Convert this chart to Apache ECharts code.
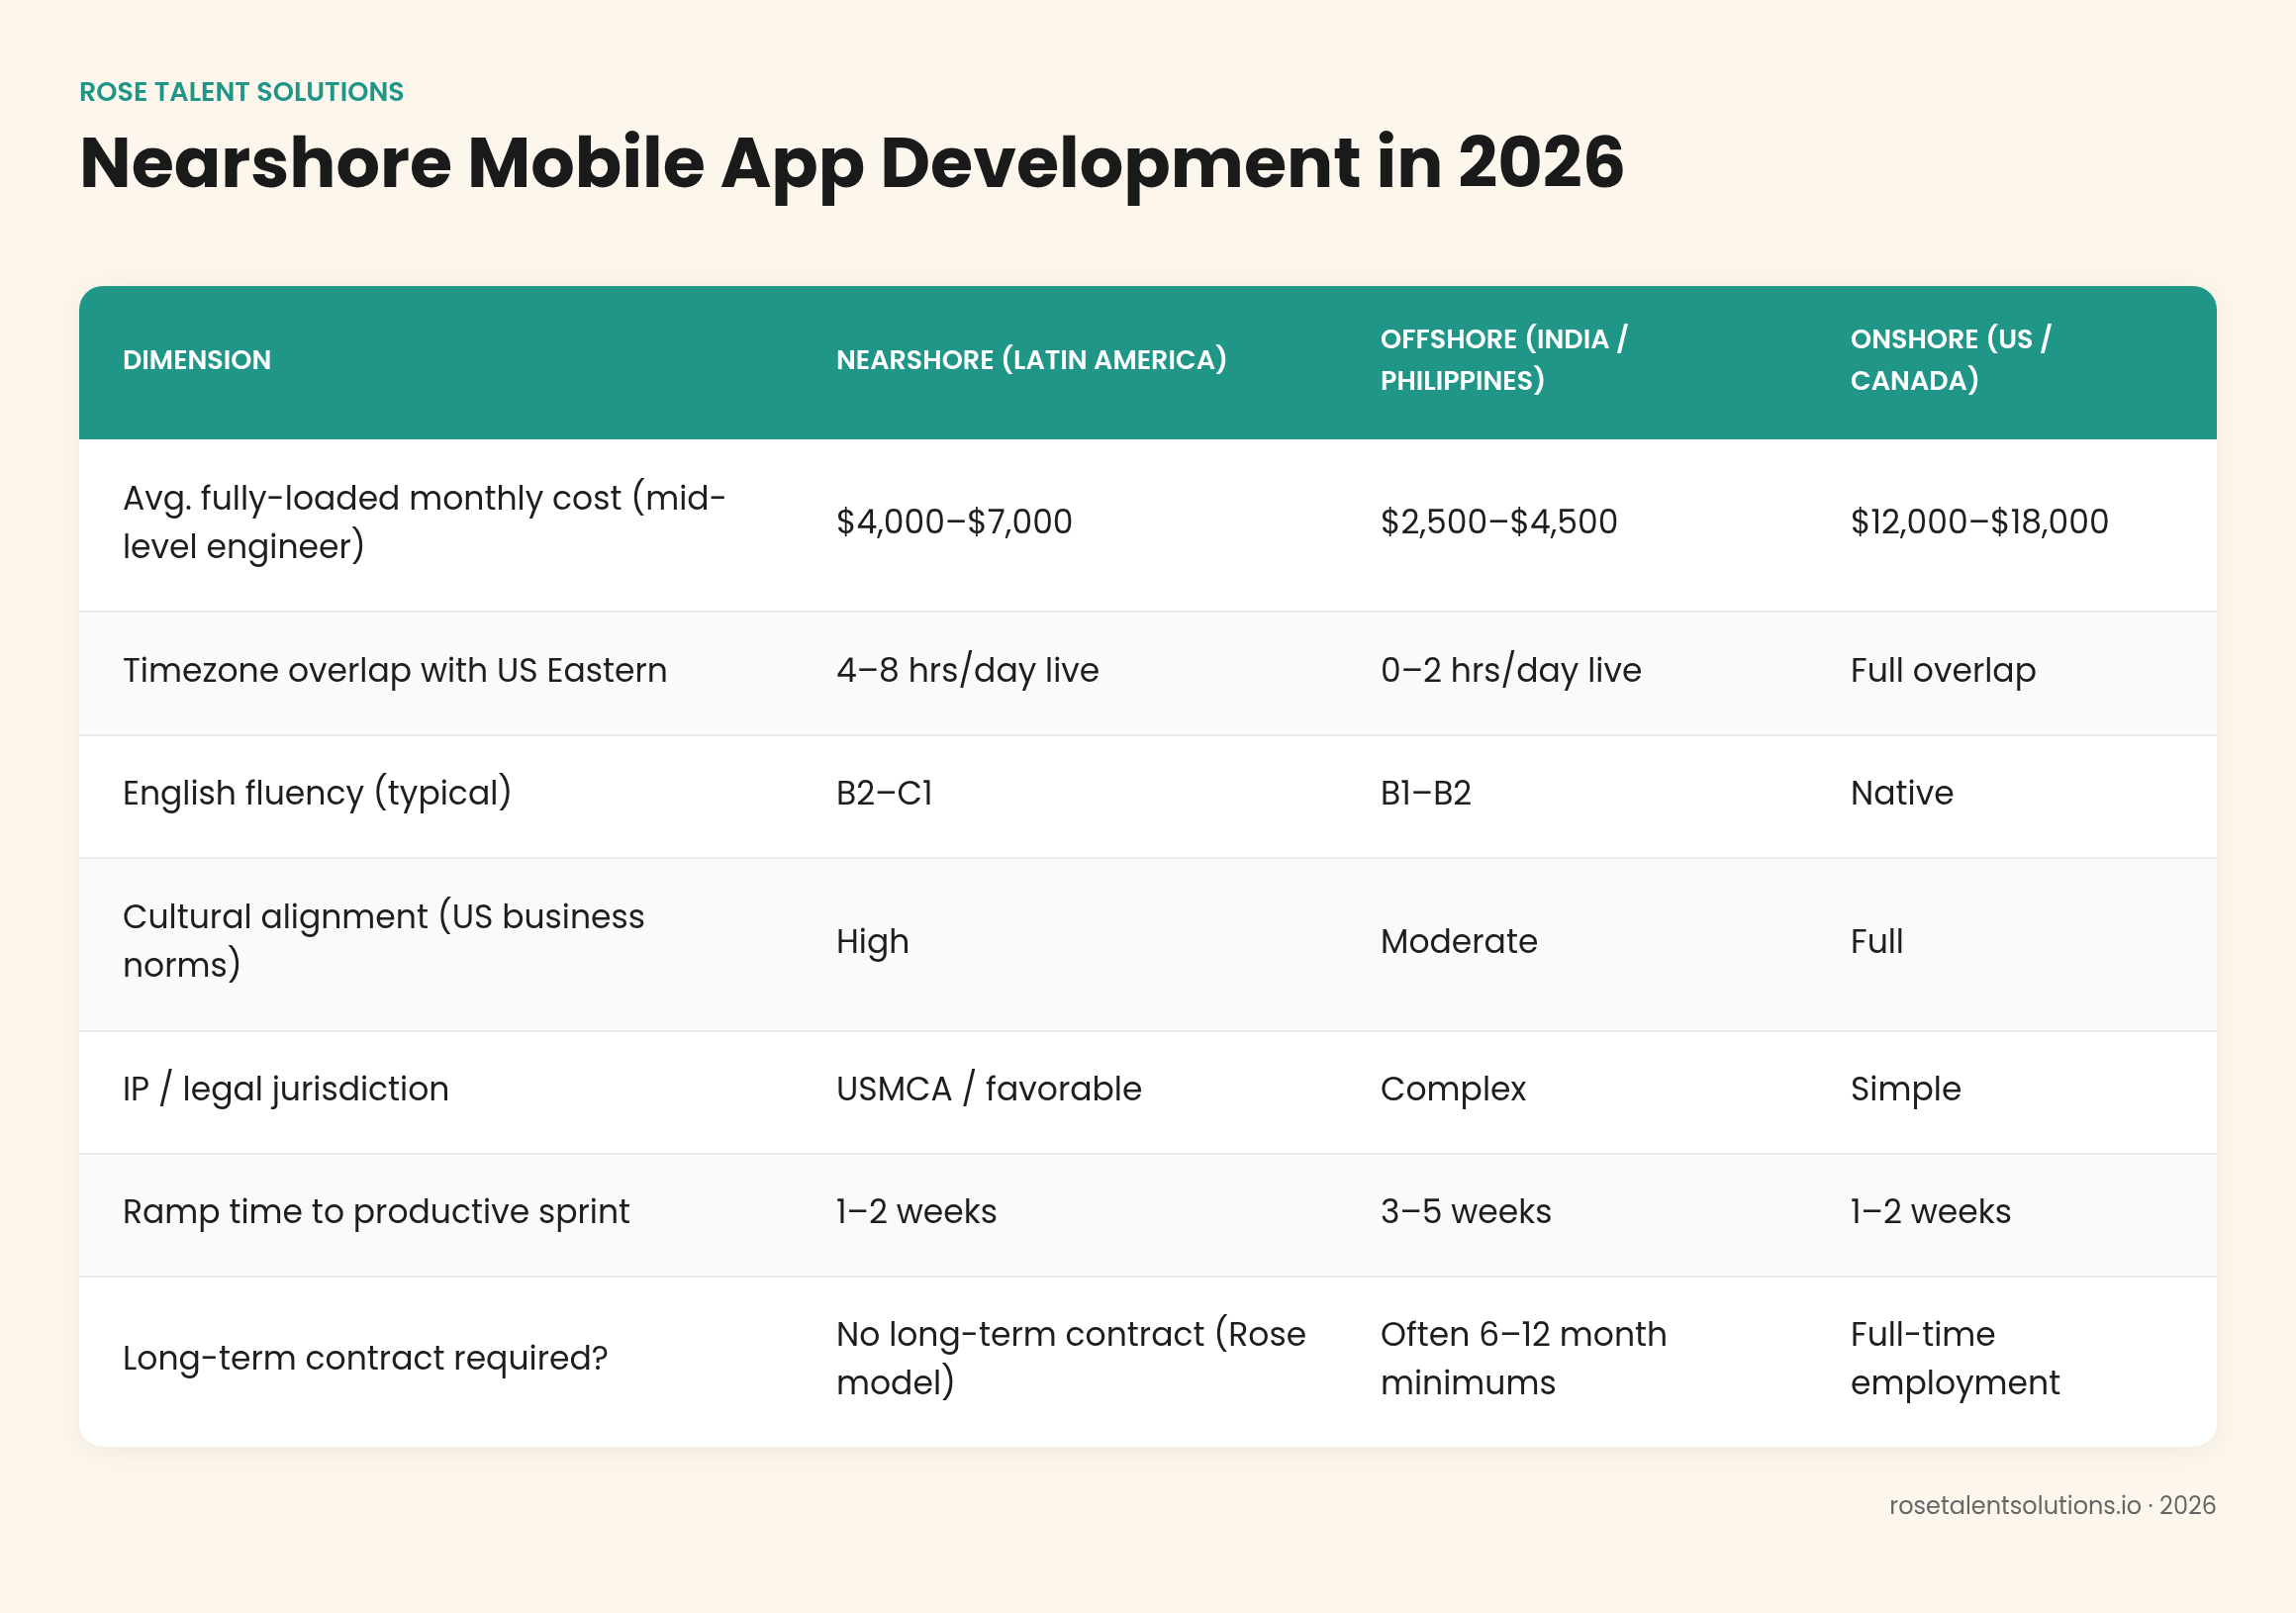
<!DOCTYPE html>
<html><head><meta charset="utf-8">
<script src="https://cdn.jsdelivr.net/npm/echarts@6/dist/echarts.min.js"></script>
<style>html,body{margin:0;background:#fdf6ec;}#c{width:2320px;height:1630px;}</style>
</head><body><div id="c"></div>
<script>
const brand = "ROSE TALENT SOLUTIONS";
const title = "Nearshore Mobile App Development in 2026";
const footer = "rosetalentsolutions.io · 2026";
const headers = ["DIMENSION", "NEARSHORE (LATIN AMERICA)", "OFFSHORE (INDIA /\nPHILIPPINES)", "ONSHORE (US /\nCANADA)"];
const dimensions = ["Avg. fully-loaded monthly cost (mid-\nlevel engineer)", "Timezone overlap with US Eastern", "English fluency (typical)", "Cultural alignment (US business\nnorms)", "IP / legal jurisdiction", "Ramp time to productive sprint", "Long-term contract required?"];
const nearshore = ["$4,000–$7,000", "4–8 hrs/day live", "B2–C1", "High", "USMCA / favorable", "1–2 weeks", "No long-term contract (Rose\nmodel)"];
const offshore = ["$2,500–$4,500", "0–2 hrs/day live", "B1–B2", "Moderate", "Complex", "3–5 weeks", "Often 6–12 month\nminimums"];
const onshore = ["$12,000–$18,000", "Full overlap", "Native", "Full", "Simple", "1–2 weeks", "Full-time\nemployment"];

const F = "Poppins, Inter, 'Noto Sans', sans-serif";
const L = 80, R = 2240, T = 289, HB = 444;
const rowB = [444, 618, 743, 867, 1042, 1166, 1290, 1462];
const colX = [124, 845, 1395, 1870];
const g = [];
g.push({type:'text', left:L, top:82, style:{text:brand, font:`600 27px ${F}`, fill:'#1f9688'}});
g.push({type:'text', left:L, top:136, style:{text:title, font:`bold 70px ${F}`, fill:'#1a1a1a'}});
g.push({type:'rect', shape:{x:L,y:T,width:R-L,height:rowB[7]-T,r:24}, style:{fill:'#fff', shadowBlur:30, shadowColor:'rgba(0,0,0,0.06)', shadowOffsetY:4}});
g.push({type:'rect', shape:{x:L,y:T,width:R-L,height:HB-T,r:[24,24,0,0]}, style:{fill:'#1f9688'}});
headers.forEach((h,i)=>g.push({type:'text', x:colX[i], y:(T+HB)/2, style:{text:h, font:`600 27px ${F}`, fill:'#fff', verticalAlign:'middle', lineHeight:42}}));
const cols=[dimensions, nearshore, offshore, onshore];
for(let r=0;r<dimensions.length;r++){
  const y0=rowB[r], y1=rowB[r+1];
  if(r%2===1) g.push({type:'rect', shape:{x:L,y:y0,width:R-L,height:y1-y0}, style:{fill:'#fafafa'}});
  if(r>0) g.push({type:'line', shape:{x1:L,y1:y0,x2:R,y2:y0}, style:{stroke:'#e6e6e6', lineWidth:1.5}});
  cols.forEach((c,i)=>g.push({type:'text', x:colX[i], y:(y0+y1)/2, style:{text:c[r], font:`33px ${F}`, fill:'#1e1e1e', verticalAlign:'middle', lineHeight:49}}));
}
g.push({type:'text', right:2320-R, top:1512, style:{text:footer, font:`24px ${F}`, fill:'#666'}});
const ch = echarts.init(document.getElementById('c'));
ch.setOption({backgroundColor:'#fdf6ec', graphic:g});
</script></body></html>
